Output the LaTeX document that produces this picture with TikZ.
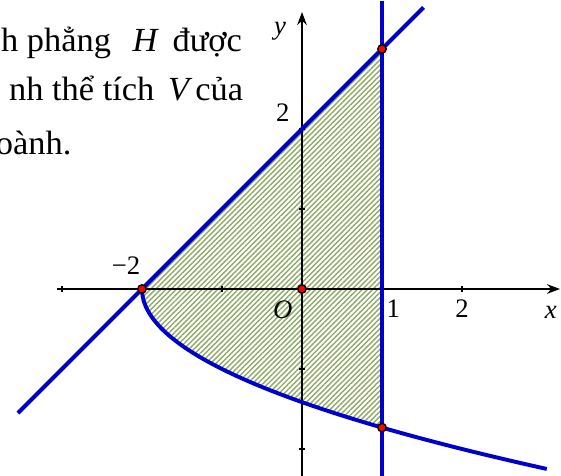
\documentclass[tikz,border=0pt]{standalone}
\usepackage{fontspec}
\setmainfont{Liberation Serif}
\newfontfamily\parafont[FakeStretch=1.02]{Liberation Serif}
\usetikzlibrary{arrows.meta,patterns.meta}
\definecolor{curveblue}{RGB}{0,0,205}
\definecolor{hatchgreen}{RGB}{140,170,100}
\tikzset{
  axis/.style={line width=0.7pt,-{Stealth[length=4.6pt,width=3.4pt]}},
  curve/.style={curveblue,line width=1.4pt},
  tickmark/.style={line width=0.6pt},
  dot/.style={circle,fill=red,draw=black,line width=0.5pt,inner sep=0pt,minimum size=3pt},
  para/.style={inner sep=0pt,font=\parafont\fontsize{12}{14}\selectfont},
  lab/.style={inner sep=0pt,font=\fontsize{9.5}{11}\selectfont},
}
\begin{document}
\begin{tikzpicture}
\clip (-3.775,-2.3375) rectangle (3.2375,3.6125);
% hatched region
\path[pattern={Lines[angle=45,distance=1.3pt,line width=0.5pt]},pattern color=hatchgreen]
  (-2,0) -- (1,3) -- (1,-1.7320508) -- plot[domain=-1.7320508:0,samples=60,smooth] ({\x*\x-2},{\x}) -- cycle;
% axes
\coordinate (xs) at (-3.06,0);
\coordinate (xe) at (3.225,0);
\coordinate (ys) at (0,-2.4);
\coordinate (ye) at (0,3.4625);
\draw[axis] (xs) -- (xe);
\draw[axis] (ys) -- (ye);
\foreach \t in {-3,-2,-1,1,2}
  \draw[tickmark] (\t,0.035) -- (\t,-0.035);
\foreach \t in {-2,-1,1,2}
  \draw[tickmark] (0.035,\t) -- (-0.035,\t);
% curves
\draw[curve] (-3.55,-1.55) -- (1.52,3.52);
\draw[curve] (1,3.6) -- (1,-2.4);
\draw[curve] plot[domain=0:-2.25,samples=80,smooth] ({\x*\x-2},{\x});
% points
\node[dot] (A) at (-2,0) {};
\node[dot] (O) at (0,0) {};
\node[dot] (B) at (1,3) {};
\node[dot] (C) at (1,-1.7320508) {};
% labels
\node[lab] (ly) at (-0.275,3.22) {\textit{y}};
\node[lab] (l2y) at (-0.24,2.2) {2};
\node[lab] (lm2) at (-2.2,0.29) {−2};
\node[lab] (lO) at (-0.24,-0.265) {\textit{O}};
\node[lab] (l1) at (1.14,-0.25) {1};
\node[lab] (l2) at (2.0,-0.25) {2};
\node[lab] (lx) at (3.11,-0.29) {\textit{x}};
% paragraph fragments
\node[para,anchor=base east] (t1a) at (-2.38,2.9625) {h phẳng};
\node[para,anchor=base west] (t1b) at (-2.125,2.9625) {\textit{H}};
\node[para,anchor=base west] (t1c) at (-1.625,2.9625) {được};
\node[para,anchor=base east] (t2a) at (-1.8375,2.35) {nh thể tích};
\node[para,anchor=base west] (t2b) at (-1.68,2.35) {\textit{V}};
\node[para,anchor=base west] (t2c) at (-1.34,2.35) {của};
\node[para,anchor=base east] (t3) at (-2.875,1.675) {oành.};
\end{tikzpicture}
\end{document}
